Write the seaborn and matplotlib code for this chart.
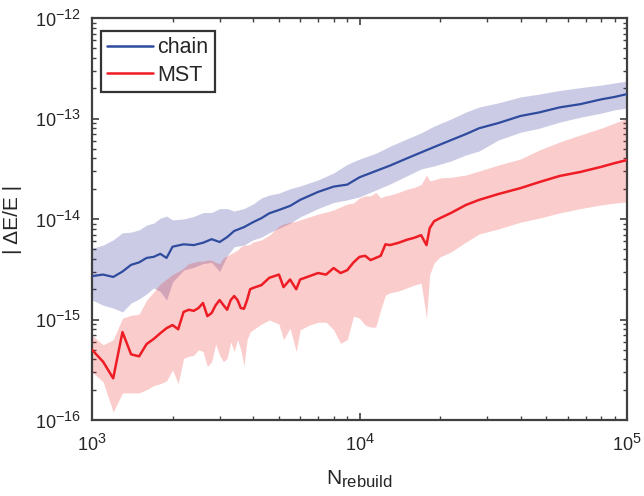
import numpy as np
import pandas as pd
import matplotlib
matplotlib.use("Agg")
import matplotlib.pyplot as plt
import matplotlib._mathtext as _mt
import seaborn as sns
from matplotlib.lines import Line2D

# ---------------- data ----------------
chain_x = [1000, 1100, 1200, 1300, 1400, 1500, 1600, 1700, 1800, 1900, 2000, 2200, 2400,
           2600, 2800, 3000, 3200, 3400, 3700, 4000, 4300, 4600, 5000, 5500, 6000, 7000,
           8000, 9000, 10000, 11500, 13000, 15000, 17000, 19000, 22000, 25000, 28000,
           33000, 40000, 47000, 56000, 67000, 80000, 90000, 100000]
chain_mean = [2.7e-15, 2.8e-15, 2.65e-15, 3.0e-15, 3.5e-15, 3.7e-15, 4.1e-15, 4.2e-15, 4.5e-15,
              4.1e-15, 5.3e-15, 5.6e-15, 5.5e-15, 5.8e-15, 6.3e-15, 5.9e-15, 6.6e-15, 7.6e-15,
              8.3e-15, 9.3e-15, 1.02e-14, 1.14e-14, 1.23e-14, 1.35e-14, 1.55e-14, 1.86e-14,
              2.1e-14, 2.2e-14, 2.6e-14, 3.0e-14, 3.4e-14, 4.0e-14, 4.6e-14, 5.2e-14, 6.1e-14,
              7.0e-14, 8.0e-14, 9.0e-14, 1.06e-13, 1.15e-13, 1.29e-13, 1.39e-13, 1.55e-13,
              1.64e-13, 1.75e-13]
chain_upper = [5.1e-15, 5.5e-15, 6.2e-15, 7.3e-15, 7.4e-15, 7.8e-15, 8.7e-15, 9.1e-15, 1.02e-14,
               1.07e-14, 9.8e-15, 1.0e-14, 1.06e-14, 1.16e-14, 1.16e-14, 1.27e-14, 1.27e-14,
               1.2e-14, 1.27e-14, 1.41e-14, 1.62e-14, 1.73e-14, 1.81e-14, 2.0e-14, 2.13e-14,
               2.45e-14, 2.87e-14, 3.5e-14, 3.95e-14, 4.5e-14, 5.3e-14, 6.25e-14, 7.2e-14,
               8.4e-14, 9.9e-14, 1.16e-13, 1.3e-13, 1.43e-13, 1.64e-13, 1.75e-13, 1.9e-13,
               2.03e-13, 2.15e-13, 2.26e-13, 2.36e-13]
chain_lower = [1.56e-15, 1.39e-15, 1.3e-15, 1.19e-15, 1.46e-15, 1.6e-15, 1.8e-15, 2.06e-15,
               1.9e-15, 1.56e-15, 2.36e-15, 3.1e-15, 3.3e-15, 3.6e-15, 3.7e-15, 3.0e-15, 4.3e-15,
               5.3e-15, 5.5e-15, 6.2e-15, 6.6e-15, 7.3e-15, 8.1e-15, 9.1e-15, 1.05e-14, 1.27e-14,
               1.46e-14, 1.55e-14, 1.66e-14, 1.94e-14, 2.23e-14, 2.68e-14, 3.15e-14, 3.37e-14,
               3.78e-14, 4.34e-14, 4.75e-14, 6.1e-14, 7.3e-14, 8.0e-14, 9.2e-14, 1.03e-13,
               1.13e-13, 1.22e-13, 1.27e-13]

mst_x = [1000, 1100, 1200, 1300, 1400, 1500, 1600, 1700, 1800, 1900, 2000, 2100, 2200, 2300,
         2400, 2500, 2600, 2700, 2800, 2900, 3000, 3100, 3200, 3300, 3400, 3500, 3600, 3700,
         3800, 3900, 4000, 4300, 4600, 5000, 5200, 5500, 5800, 6000, 6500, 7000, 7500, 8000,
         8500, 9000, 9500, 10000, 10500, 11000, 11500, 12000, 12500, 13000, 14000, 15000,
         16000, 17000, 17800, 18300, 19000, 20000, 22000, 25000, 28000, 33000, 40000, 47000,
         56000, 67000, 80000, 90000, 100000]
mst_mean = [5.0e-16, 3.8e-16, 2.6e-16, 7.5e-16, 4.5e-16, 4.3e-16, 5.7e-16, 6.4e-16, 7.3e-16,
            8.2e-16, 8.8e-16, 8.0e-16, 1.19e-15, 1.25e-15, 1.22e-15, 1.3e-15, 1.46e-15, 1.08e-15,
            1.16e-15, 1.39e-15, 1.56e-15, 1.39e-15, 1.25e-15, 1.56e-15, 1.71e-15, 1.56e-15,
            1.3e-15, 1.28e-15, 1.56e-15, 2.0e-15, 2.06e-15, 2.2e-15, 2.6e-15, 2.8e-15, 2.1e-15,
            2.5e-15, 2.0e-15, 2.5e-15, 2.7e-15, 2.9e-15, 2.8e-15, 3.25e-15, 2.9e-15, 3.1e-15,
            3.7e-15, 4.2e-15, 4.3e-15, 3.9e-15, 4.1e-15, 4.3e-15, 5.6e-15, 5.5e-15, 5.8e-15,
            6.2e-15, 6.5e-15, 6.9e-15, 5.5e-15, 8.1e-15, 9.5e-15, 1.02e-14, 1.15e-14, 1.38e-14,
            1.55e-14, 1.77e-14, 2.03e-14, 2.33e-14, 2.68e-14, 2.94e-14, 3.3e-14, 3.6e-14,
            3.86e-14]
mst_upper = [7.0e-16, 5.6e-16, 6.3e-16, 1.03e-15, 1.1e-15, 1.13e-15, 1.56e-15, 1.88e-15,
             2.26e-15, 2.53e-15, 2.8e-15, 3.0e-15, 3.25e-15, 3.6e-15, 3.7e-15, 3.8e-15, 3.8e-15,
             3.9e-15, 3.9e-15, 3.7e-15, 3.6e-15, 4.1e-15, 4.3e-15, 4.5e-15, 4.7e-15, 4.9e-15,
             5.3e-15, 5.5e-15, 5.5e-15, 5.6e-15, 5.9e-15, 6.2e-15, 6.9e-15, 8.5e-15, 8.9e-15,
             9.3e-15, 9.5e-15, 9.8e-15, 1.05e-14, 1.12e-14, 1.17e-14, 1.23e-14, 1.32e-14,
             1.41e-14, 1.44e-14, 1.62e-14, 1.7e-14, 1.7e-14, 1.84e-14, 1.62e-14, 1.7e-14,
             1.73e-14, 1.84e-14, 1.97e-14, 2.06e-14, 2.2e-14, 2.74e-14, 2.4e-14, 2.45e-14,
             2.56e-14, 2.6e-14, 2.74e-14, 3.0e-14, 3.44e-14, 3.95e-14, 4.86e-14, 5.84e-14,
             6.86e-14, 8.0e-14, 9.0e-14, 1.01e-13]
mst_lower = [3.0e-16, 2.4e-16, 1.2e-16, 1.86e-16, 1.86e-16, 1.86e-16, 2.0e-16, 2.2e-16, 2.3e-16,
             2.45e-16, 3.15e-16, 2.3e-16, 4.1e-16, 4.3e-16, 4.4e-16, 5.0e-16, 4.8e-16, 3.4e-16,
             3.8e-16, 5.7e-16, 4.4e-16, 3.8e-16, 4.1e-16, 6.0e-16, 4.8e-16, 6.3e-16, 5.0e-16,
             3.45e-16, 6.3e-16, 7.5e-16, 7.9e-16, 9.0e-16, 9.9e-16, 9.0e-16, 6.3e-16, 8.2e-16,
             4.8e-16, 7.9e-16, 8.8e-16, 9.4e-16, 9.4e-16, 7.9e-16, 5.8e-16, 6.3e-16, 1.08e-15,
             1.03e-15, 8.8e-16, 8.4e-16, 8.4e-16, 1.25e-15, 1.75e-15, 1.84e-15, 1.92e-15,
             2.06e-15, 2.2e-15, 2.3e-15, 1.03e-15, 2.8e-15, 3.65e-15, 4.2e-15, 4.7e-15, 5.9e-15,
             7.1e-15, 7.95e-15, 9.3e-15, 1.02e-14, 1.15e-14, 1.27e-14, 1.38e-14, 1.44e-14,
             1.48e-14]

series_names = ["chain", "MST"]
x_ticks = [1e3, 1e4, 1e5]
y_ticks = [1e-16, 1e-15, 1e-14, 1e-13, 1e-12]

# ---------------- style ----------------
_mt.SHRINK_FACTOR = 0.8   # larger super/subscripts, like the reference
sns.set_style("ticks")
plt.rcParams["font.family"] = ["Liberation Sans", "DejaVu Sans"]
plt.rcParams["mathtext.fontset"] = "custom"
plt.rcParams["mathtext.rm"] = "Liberation Sans"
plt.rcParams["mathtext.it"] = "Liberation Sans:italic"
plt.rcParams["mathtext.bf"] = "Liberation Sans:bold"
plt.rcParams["mathtext.default"] = "regular"

blue_line = "#2f4b9e"
red_line = "#ee1c24"
blue_fill = (0.2, 0.2, 0.6)
red_fill = (0.93, 0.1, 0.1)
axis_col = "#404040"
text_col = "#262626"

df = pd.concat([
    pd.DataFrame({"N": chain_x, "err": chain_mean, "method": series_names[0]}),
    pd.DataFrame({"N": mst_x, "err": mst_mean, "method": series_names[1]}),
], ignore_index=True)

fig = plt.figure(figsize=(6.44, 4.96), dpi=100)
ax = fig.add_axes([92 / 644, 1 - 420 / 496, (627 - 92) / 644, (420 - 18) / 496])

ax.set_xscale("log")
ax.set_yscale("log")

ax.fill_between(chain_x, chain_lower, chain_upper, color=blue_fill, alpha=0.25, lw=0, zorder=1)
ax.fill_between(mst_x, mst_lower, mst_upper, color=red_fill, alpha=0.22, lw=0, zorder=1)

sns.lineplot(data=df, x="N", y="err", hue="method", palette=[blue_line, red_line],
             hue_order=series_names, errorbar=None, ax=ax, legend=False, zorder=3)
for line, lw in zip(ax.get_lines(), [1.6, 1.8]):
    line.set_linewidth(lw)

ax.set_xlim(1e3, 1e5)
ax.set_ylim(1e-16, 1e-12)
ax.set_xticks(x_ticks)
ax.set_yticks(y_ticks)

for sp in ax.spines.values():
    sp.set_visible(True)
    sp.set_linewidth(1.6)
    sp.set_color(axis_col)

ax.tick_params(which="both", direction="in", top=True, right=True, color=axis_col,
               labelcolor=text_col, labelsize=13)
ax.tick_params(which="major", length=5, width=1.2)
ax.tick_params(which="minor", length=3, width=1.0)
ax.tick_params(axis="x", which="major", pad=10)
ax.tick_params(axis="y", which="major", pad=8)

ax.set_xlabel(r"N$_{\mathrm{rebuild}}$", fontsize=15, color=text_col, labelpad=10)
ax.set_ylabel("| ΔE/E |", fontsize=15, color=text_col, labelpad=9)

handles = [Line2D([], [], color=blue_line, lw=1.8), Line2D([], [], color=red_line, lw=1.8)]
leg = ax.legend(handles, series_names, loc="upper left", bbox_to_anchor=(0.0168, 0.968),
                fontsize=15.5, frameon=True, fancybox=False, framealpha=1,
                edgecolor="#333333", handlelength=2.1, handletextpad=0.2,
                borderpad=0.3, labelspacing=0.3, borderaxespad=0.0)
leg.get_frame().set_linewidth(1.6)
for t in leg.get_texts():
    t.set_color(text_col)

fig.savefig("out.png", dpi=100)
